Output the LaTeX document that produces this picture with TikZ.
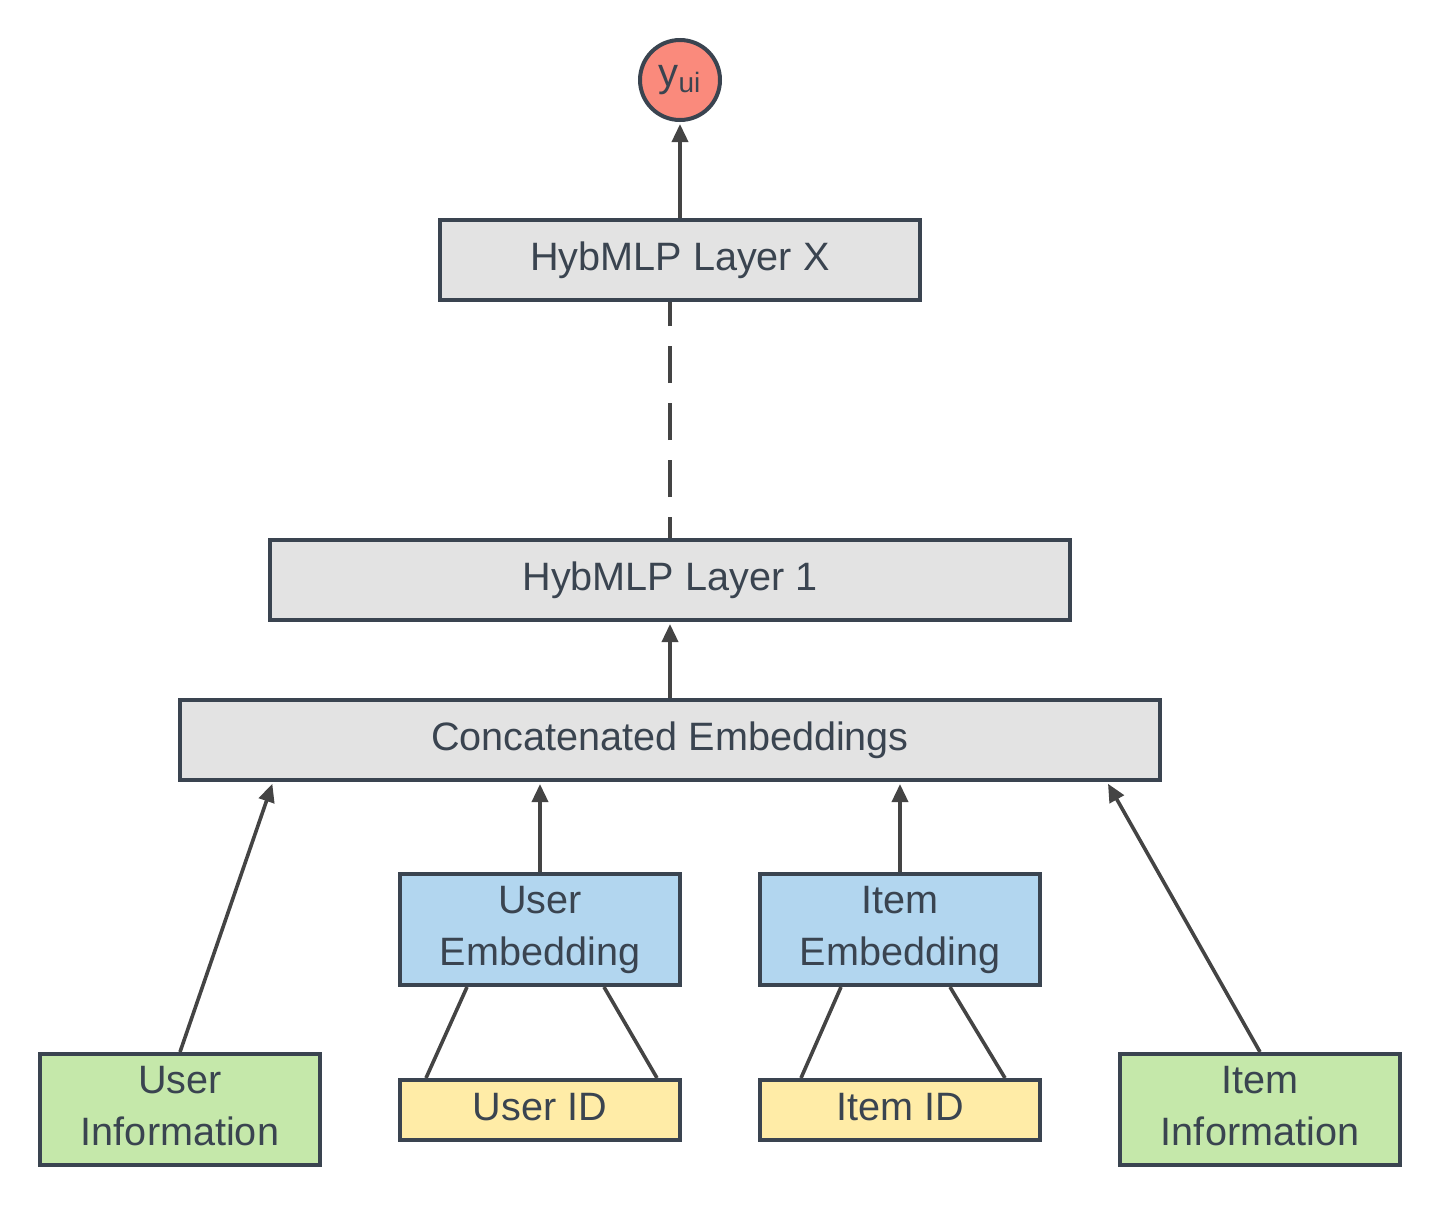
\documentclass[tikz,border=0pt]{standalone}
\usepackage{fontspec}
\setmainfont{Liberation Sans}
\usetikzlibrary{arrows.meta}
\definecolor{bordc}{HTML}{3A4450}
\definecolor{linec}{HTML}{444444}
\definecolor{txtc}{HTML}{3A4450}
\definecolor{grayf}{HTML}{E3E3E3}
\definecolor{bluef}{HTML}{B2D6EF}
\definecolor{greenf}{HTML}{C5E8AA}
\definecolor{yellowf}{HTML}{FFECA7}
\definecolor{redf}{HTML}{FA8A7C}
\newcommand{\twol}[2]{\raisebox{3pt}{\begin{tabular}{@{}c@{}}#1\\#2\end{tabular}}}
\begin{document}
\begin{tikzpicture}[x=0.5pt,y=-0.5pt,
  box/.style={draw=bordc, line width=2pt, inner sep=0pt, align=center,
    text=txtc, font=\fontsize{19.8}{26}\selectfont},
  conn/.style={draw=linec, line width=1.8pt},
  arr/.style={conn, -{Triangle[length=9pt,width=8pt]}, shorten >=1pt}
]
\useasboundingbox (0,0) rectangle (1440,1205);
\node[draw=bordc, line width=2pt, fill=redf, circle, minimum size=40pt, inner sep=0pt,
  text=txtc, font=\fontsize{20}{24}\selectfont] (y) at (680,80) {y\textsubscript{ui}};
\node[box, fill=grayf, minimum width=240pt, minimum height=40pt] (lx) at (680,260) {\raisebox{2pt}{HybMLP Layer X}};
\node[box, fill=grayf, minimum width=400pt, minimum height=40pt] (l1) at (670,580) {\raisebox{2pt}{HybMLP Layer 1}};
\node[box, fill=grayf, minimum width=490pt, minimum height=40pt] (cc) at (670,740) {\raisebox{3pt}{Concatenated Embeddings}};
\node[box, fill=bluef, minimum width=140pt, minimum height=55.5pt] (ue) at (540,929.5) {\twol{User}{Embedding}};
\node[box, fill=bluef, minimum width=140pt, minimum height=55.5pt] (ie) at (900,929.5) {\twol{Item}{Embedding}};
\node[box, fill=yellowf, minimum width=140pt, minimum height=30pt] (uid) at (540,1110) {\raisebox{3pt}{User ID}};
\node[box, fill=yellowf, minimum width=140pt, minimum height=30pt] (iid) at (900,1110) {\raisebox{3pt}{Item ID}};
\node[box, fill=greenf, minimum width=140pt, minimum height=55.5pt] (uinf) at (180,1109.5) {\twol{User}{Information}};
\node[box, fill=greenf, minimum width=140pt, minimum height=55.5pt] (iinf) at (1260,1109.5) {\twol{Item}{Information}};

\draw[arr] (lx.north) -- (y.south);
\draw[conn, dash pattern=on 18.5pt off 10pt, dash phase=8pt] (l1.north) -- (l1.north |- lx.south);
\draw[arr] (cc.north) -- (l1.south);
\draw[arr] (uinf.north) -- ([xshift=47.5pt]cc.south west);
\draw[arr] (ue.north) -- (ue.north |- cc.south);
\draw[arr] (ie.north) -- (ie.north |- cc.south);
\draw[arr] (iinf.north) -- ([xshift=-27.5pt]cc.south east);
\draw[conn] ([xshift=14pt]uid.north west) -- ([xshift=34.5pt]ue.south west);
\draw[conn] ([xshift=-12.5pt]uid.north east) -- ([xshift=-39pt]ue.south east);
\draw[conn] ([xshift=21.5pt]iid.north west) -- ([xshift=41.5pt]ie.south west);
\draw[conn] ([xshift=-18.5pt]iid.north east) -- ([xshift=-46pt]ie.south east);
\end{tikzpicture}
\end{document}
